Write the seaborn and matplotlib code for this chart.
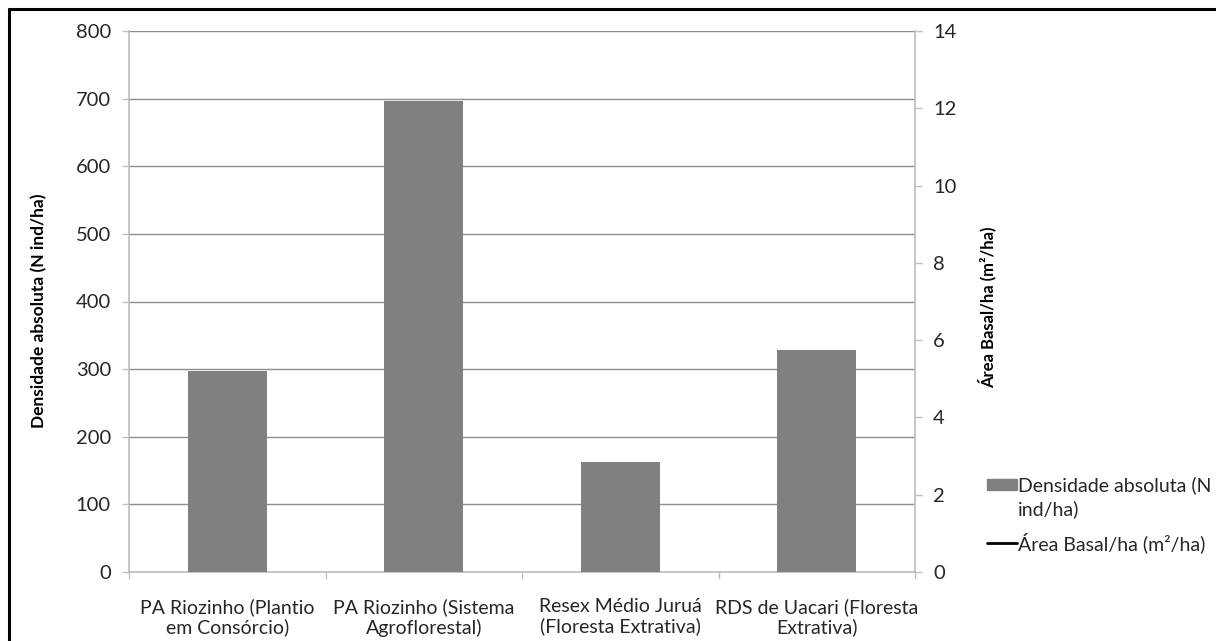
import numpy as np
import pandas as pd
import matplotlib
matplotlib.use("Agg")
import matplotlib.pyplot as plt
import seaborn as sns
from matplotlib.lines import Line2D
from matplotlib.patches import Rectangle

categories = ["PA Riozinho (Plantio\nem Consórcio)",
              "PA Riozinho (Sistema\nAgroflorestal)",
              "Resex Médio Juruá\n(Floresta Extrativa)",
              "RDS de Uacari (Floresta\nExtrativa)"]
densidade = [297, 696, 162, 328]
area_basal = [np.nan, np.nan, np.nan, np.nan]  # line not visible in the reference

left_ticks = [0, 100, 200, 300, 400, 500, 600, 700, 800]
right_ticks = [0, 2, 4, 6, 8, 10, 12, 14]

sns.set_theme(style="white")
plt.rcParams['font.family'] = ['Lato', 'DejaVu Sans']

TXT = "#262626"
W, H = 1216, 641
df = pd.DataFrame({"cat": categories, "dens": densidade})

fig = plt.figure(figsize=(12.16, 6.41), dpi=100)
ax = fig.add_axes([129/W, 1-572/H, (915-129)/W, (572-31)/H])

sns.barplot(data=df, x="cat", y="dens", color="#808080", width=0.40,
            saturation=1, ax=ax, edgecolor="none", zorder=3)

ax.set_ylim(0, 800)
ax.set_yticks(left_ticks)
ax.set_xlim(-0.5, 3.5)
ax.set_xlabel("")
ax.set_ylabel("Densidade absoluta (N ind/ha)", fontsize=12.5, fontweight="bold",
              color="black", labelpad=0)
ax.yaxis.set_label_coords((47 - 129) / (915 - 129), 0.482)
ax.yaxis.grid(True, color="#8c8c8c", linewidth=1.0, zorder=0)
ax.set_axisbelow(True)
for s in ["top", "right"]:
    ax.spines[s].set_visible(False)
ax.spines["left"].set_color("#bfbfbf")
ax.spines["bottom"].set_color("#bfbfbf")
ax.tick_params(axis="y", which="both", left=True, length=5, width=1, color="#bfbfbf",
               labelsize=14.5, labelcolor=TXT, pad=8)
ax.set_xticks([0, 1, 2, 3])
ax.set_xticklabels(categories, fontsize=14, color=TXT, multialignment="center",
                   linespacing=1.15)
ax.tick_params(axis="x", length=0, pad=19)
# category boundary tick marks
for b in [-0.5, 0.5, 1.5, 2.5, 3.5]:
    ax.plot([b, b], [0, -0.012], transform=ax.get_xaxis_transform(), color="#bfbfbf",
            lw=1, clip_on=False)

ax2 = ax.twinx()
ax2.plot(range(len(categories)), area_basal, color="black", lw=2,
         label="Área Basal/ha (m²/ha)")
ax2.set_ylim(0, 14)
ax2.set_yticks(right_ticks)
ax2.set_ylabel("Área Basal/ha (m²/ha)", fontsize=12, fontweight="bold", color="black")
ax2.yaxis.set_label_coords((978 - 129) / (915 - 129), 0.49)
for s in ["top", "left", "bottom"]:
    ax2.spines[s].set_visible(False)
ax2.spines["right"].set_color("#bfbfbf")
ax2.tick_params(axis="y", right=True, length=5, width=1, color="#bfbfbf",
                labelsize=14.5, labelcolor=TXT, pad=8)

# legend (drawn manually to match the reference layout)
fig.add_artist(Rectangle((987/W, 1-490/H), 30/W, 11/H, color="#808080",
                         transform=fig.transFigure))
fig.text(1018/W, 1-485/H, "Densidade absoluta (N", fontsize=14, color=TXT, va="center")
fig.text(1018/W, 1-509/H, "ind/ha)", fontsize=14, color=TXT, va="center")
fig.add_artist(Line2D([987/W, 1017/W], [1-543/H, 1-543/H], color="black", lw=2,
                      transform=fig.transFigure))
fig.text(1018/W, 1-543/H, "Área Basal/ha (m²/ha)", fontsize=14, color=TXT, va="center")

# outer border (top and left visible)
fig.add_artist(Line2D([9/W, 9/W], [0, 1-8.5/H], color="black", lw=2.2,
                      transform=fig.transFigure))
fig.add_artist(Line2D([9/W, 1], [1-8.5/H, 1-8.5/H], color="black", lw=2.2,
                      transform=fig.transFigure))

fig.savefig("out.png", dpi=100, facecolor="white")
